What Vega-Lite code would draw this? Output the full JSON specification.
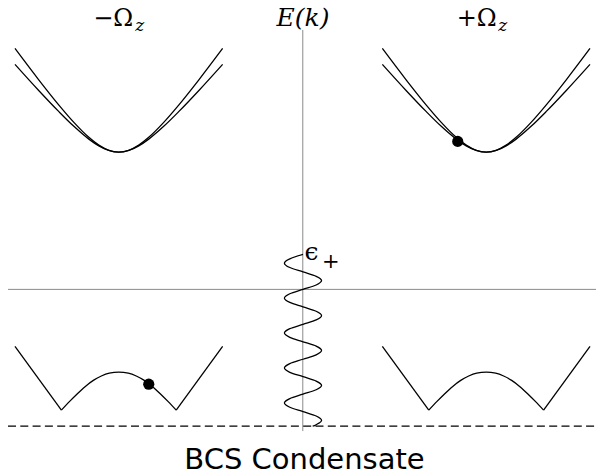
{
  "$schema": "https://vega.github.io/schema/vega-lite/v6.json",
  "autosize": {"type": "fit", "contains": "padding"},
  "width": 597,
  "height": 475,
  "padding": 0,
  "background": "white",
  "config": {"view": {"stroke": null}},
  "datasets": {
    "rules": [
      {"id": "kaxis", "k": 0.003, "k2": 0.003, "E": 2.60, "E2": -1.42},
      {"id": "Ezero", "k": -2.95, "k2": 2.94, "E": 0, "E2": 0}
    ],
    "dash": [
      {"id": "condensate", "k": -2.95, "k2": 2.94, "E": -1.37, "E2": -1.37}
    ],
    "curves": [
      {"id": "LoutA", "k": -2.88, "E": 2.415}, {"id": "LoutA", "k": -2.64, "E": 2.098}, {"id": "LoutA", "k": -2.44, "E": 1.847}, {"id": "LoutA", "k": -2.29, "E": 1.674}, {"id": "LoutA", "k": -2.14, "E": 1.524}, {"id": "LoutA", "k": -2.04, "E": 1.446}, {"id": "LoutA", "k": -1.94, "E": 1.394}, {"id": "LoutA", "k": -1.84, "E": 1.375}, {"id": "LoutA", "k": -1.74, "E": 1.394}, {"id": "LoutA", "k": -1.64, "E": 1.446}, {"id": "LoutA", "k": -1.54, "E": 1.524}, {"id": "LoutA", "k": -1.39, "E": 1.674}, {"id": "LoutA", "k": -1.24, "E": 1.847}, {"id": "LoutA", "k": -1.04, "E": 2.098}, {"id": "LoutA", "k": -0.80, "E": 2.415},
      {"id": "LinA", "k": -2.88, "E": 2.255}, {"id": "LinA", "k": -2.64, "E": 1.991}, {"id": "LinA", "k": -2.44, "E": 1.781}, {"id": "LinA", "k": -2.29, "E": 1.634}, {"id": "LinA", "k": -2.14, "E": 1.506}, {"id": "LinA", "k": -2.04, "E": 1.438}, {"id": "LinA", "k": -1.94, "E": 1.392}, {"id": "LinA", "k": -1.84, "E": 1.375}, {"id": "LinA", "k": -1.74, "E": 1.392}, {"id": "LinA", "k": -1.64, "E": 1.438}, {"id": "LinA", "k": -1.54, "E": 1.506}, {"id": "LinA", "k": -1.39, "E": 1.634}, {"id": "LinA", "k": -1.24, "E": 1.781}, {"id": "LinA", "k": -1.04, "E": 1.991}, {"id": "LinA", "k": -0.80, "E": 2.255},
      {"id": "RoutA", "k": 0.80, "E": 2.415}, {"id": "RoutA", "k": 1.04, "E": 2.098}, {"id": "RoutA", "k": 1.24, "E": 1.847}, {"id": "RoutA", "k": 1.39, "E": 1.674}, {"id": "RoutA", "k": 1.54, "E": 1.524}, {"id": "RoutA", "k": 1.64, "E": 1.446}, {"id": "RoutA", "k": 1.74, "E": 1.394}, {"id": "RoutA", "k": 1.84, "E": 1.375}, {"id": "RoutA", "k": 1.94, "E": 1.394}, {"id": "RoutA", "k": 2.04, "E": 1.446}, {"id": "RoutA", "k": 2.14, "E": 1.524}, {"id": "RoutA", "k": 2.29, "E": 1.674}, {"id": "RoutA", "k": 2.44, "E": 1.847}, {"id": "RoutA", "k": 2.64, "E": 2.098}, {"id": "RoutA", "k": 2.88, "E": 2.415},
      {"id": "RinA", "k": 0.80, "E": 2.255}, {"id": "RinA", "k": 1.04, "E": 1.991}, {"id": "RinA", "k": 1.24, "E": 1.781}, {"id": "RinA", "k": 1.39, "E": 1.634}, {"id": "RinA", "k": 1.54, "E": 1.506}, {"id": "RinA", "k": 1.64, "E": 1.438}, {"id": "RinA", "k": 1.74, "E": 1.392}, {"id": "RinA", "k": 1.84, "E": 1.375}, {"id": "RinA", "k": 1.94, "E": 1.392}, {"id": "RinA", "k": 2.04, "E": 1.438}, {"id": "RinA", "k": 2.14, "E": 1.506}, {"id": "RinA", "k": 2.29, "E": 1.634}, {"id": "RinA", "k": 2.44, "E": 1.781}, {"id": "RinA", "k": 2.64, "E": 1.991}, {"id": "RinA", "k": 2.88, "E": 2.255},
      {"id": "LW1", "k": -2.88, "E": -0.57}, {"id": "LW1", "k": -2.415, "E": -1.21},
      {"id": "LW2", "k": -2.415, "E": -1.21}, {"id": "LW2", "k": -2.335, "E": -1.125}, {"id": "LW2", "k": -2.255, "E": -1.045}, {"id": "LW2", "k": -2.175, "E": -0.972}, {"id": "LW2", "k": -2.095, "E": -0.912}, {"id": "LW2", "k": -2.015, "E": -0.868}, {"id": "LW2", "k": -1.935, "E": -0.84}, {"id": "LW2", "k": -1.84, "E": -0.83}, {"id": "LW2", "k": -1.745, "E": -0.84}, {"id": "LW2", "k": -1.665, "E": -0.868}, {"id": "LW2", "k": -1.585, "E": -0.912}, {"id": "LW2", "k": -1.505, "E": -0.972}, {"id": "LW2", "k": -1.425, "E": -1.045}, {"id": "LW2", "k": -1.345, "E": -1.125}, {"id": "LW2", "k": -1.265, "E": -1.21},
      {"id": "LW3", "k": -1.265, "E": -1.21}, {"id": "LW3", "k": -0.80, "E": -0.57},
      {"id": "RW1", "k": 0.80, "E": -0.57}, {"id": "RW1", "k": 1.265, "E": -1.21},
      {"id": "RW2", "k": 1.265, "E": -1.21}, {"id": "RW2", "k": 1.345, "E": -1.125}, {"id": "RW2", "k": 1.425, "E": -1.045}, {"id": "RW2", "k": 1.505, "E": -0.972}, {"id": "RW2", "k": 1.585, "E": -0.912}, {"id": "RW2", "k": 1.665, "E": -0.868}, {"id": "RW2", "k": 1.745, "E": -0.84}, {"id": "RW2", "k": 1.84, "E": -0.83}, {"id": "RW2", "k": 1.935, "E": -0.84}, {"id": "RW2", "k": 2.015, "E": -0.868}, {"id": "RW2", "k": 2.095, "E": -0.912}, {"id": "RW2", "k": 2.175, "E": -0.972}, {"id": "RW2", "k": 2.255, "E": -1.045}, {"id": "RW2", "k": 2.335, "E": -1.125}, {"id": "RW2", "k": 2.415, "E": -1.21},
      {"id": "RW3", "k": 2.415, "E": -1.21}, {"id": "RW3", "k": 2.88, "E": -0.57}
    ],
    "wave": [
      {"i": 0, "k": 0.005, "E": 0.35}, {"i": 1, "k": -0.127, "E": 0.306}, {"i": 2, "k": -0.181, "E": 0.263}, {"i": 3, "k": -0.127, "E": 0.219},
      {"i": 4, "k": 0.005, "E": 0.175}, {"i": 5, "k": 0.137, "E": 0.131}, {"i": 6, "k": 0.191, "E": 0.088}, {"i": 7, "k": 0.137, "E": 0.044},
      {"i": 8, "k": 0.005, "E": 0.0}, {"i": 9, "k": -0.127, "E": -0.044}, {"i": 10, "k": -0.181, "E": -0.088}, {"i": 11, "k": -0.127, "E": -0.131},
      {"i": 12, "k": 0.005, "E": -0.175}, {"i": 13, "k": 0.137, "E": -0.219}, {"i": 14, "k": 0.191, "E": -0.263}, {"i": 15, "k": 0.137, "E": -0.306},
      {"i": 16, "k": 0.005, "E": -0.35}, {"i": 17, "k": -0.127, "E": -0.394}, {"i": 18, "k": -0.181, "E": -0.438}, {"i": 19, "k": -0.127, "E": -0.481},
      {"i": 20, "k": 0.005, "E": -0.525}, {"i": 21, "k": 0.137, "E": -0.569}, {"i": 22, "k": 0.191, "E": -0.613}, {"i": 23, "k": 0.137, "E": -0.656},
      {"i": 24, "k": 0.005, "E": -0.70}, {"i": 25, "k": -0.127, "E": -0.744}, {"i": 26, "k": -0.181, "E": -0.788}, {"i": 27, "k": -0.127, "E": -0.831},
      {"i": 28, "k": 0.005, "E": -0.875}, {"i": 29, "k": 0.137, "E": -0.919}, {"i": 30, "k": 0.191, "E": -0.963}, {"i": 31, "k": 0.137, "E": -1.006},
      {"i": 32, "k": 0.005, "E": -1.05}, {"i": 33, "k": -0.127, "E": -1.094}, {"i": 34, "k": -0.181, "E": -1.138}, {"i": 35, "k": -0.127, "E": -1.181},
      {"i": 36, "k": 0.005, "E": -1.225}, {"i": 37, "k": 0.137, "E": -1.269}, {"i": 38, "k": 0.191, "E": -1.313}, {"i": 39, "k": 0.137, "E": -1.356},
      {"i": 40, "k": 0.102, "E": -1.37}
    ],
    "dots": [
      {"id": "condensed", "k": 1.555, "E": 1.483},
      {"id": "pair", "k": -1.54, "E": -0.95}
    ],
    "texts": [
      {"role": "italicCenter", "t": "E(k)", "k": 0.005, "E": 2.635},
      {"role": "sub", "t": "z", "k": -1.675, "E": 2.585},
      {"role": "sub", "t": "z", "k": 1.96, "E": 2.585},
      {"role": "eps", "t": "ϵ", "k": 0.02, "E": 0.29},
      {"role": "uprightRight", "t": "−Ω", "k": -1.695, "E": 2.635},
      {"role": "uprightRight", "t": "+Ω", "k": 1.945, "E": 2.635},
      {"role": "uprightLeft", "t": "+", "k": 0.195, "E": 0.215},
      {"role": "sans", "t": "BCS Condensate", "k": 0.02, "E": -1.80}
    ]
  },
  "encoding": {
    "x": {"field": "k", "type": "quantitative", "axis": null, "scale": {"domain": [-3.03, 2.94], "nice": false, "zero": false}},
    "y": {"field": "E", "type": "quantitative", "axis": null, "scale": {"domain": [-1.85, 2.90], "nice": false, "zero": false}}
  },
  "layer": [
    {
      "data": {"name": "rules"},
      "mark": {"type": "rule", "color": "#8a8a8a", "strokeWidth": 1},
      "encoding": {"x2": {"field": "k2"}, "y2": {"field": "E2"}}
    },
    {
      "data": {"name": "dash"},
      "mark": {"type": "rule", "color": "black", "strokeWidth": 1.2, "strokeDash": [8, 4.3]},
      "encoding": {"x2": {"field": "k2"}, "y2": {"field": "E2"}}
    },
    {
      "data": {"name": "curves"},
      "mark": {"type": "line", "color": "black", "strokeWidth": 1.3, "interpolate": "monotone"},
      "encoding": {"detail": {"field": "id"}}
    },
    {
      "data": {"name": "wave"},
      "mark": {"type": "line", "color": "black", "strokeWidth": 1.3, "interpolate": "cardinal"},
      "encoding": {"order": {"field": "i", "type": "quantitative"}}
    },
    {
      "data": {"name": "dots"},
      "mark": {"type": "point", "filled": true, "color": "black", "opacity": 1, "size": 125}
    },
    {
      "data": {"name": "texts"},
      "transform": [{"filter": "datum.role === 'italicCenter'"}],
      "mark": {"type": "text", "font": "DejaVu Serif", "fontStyle": "italic", "fontSize": 25, "align": "center", "baseline": "alphabetic", "color": "black"},
      "encoding": {"text": {"field": "t"}}
    },
    {
      "data": {"name": "texts"},
      "transform": [{"filter": "datum.role === 'sub'"}],
      "mark": {"type": "text", "font": "DejaVu Serif", "fontStyle": "italic", "fontSize": 17, "align": "left", "baseline": "alphabetic", "color": "black"},
      "encoding": {"text": {"field": "t"}}
    },
    {
      "data": {"name": "texts"},
      "transform": [{"filter": "datum.role === 'eps'"}],
      "mark": {"type": "text", "font": "DejaVu Serif", "fontSize": 25, "align": "left", "baseline": "alphabetic", "color": "black"},
      "encoding": {"text": {"field": "t"}}
    },
    {
      "data": {"name": "texts"},
      "transform": [{"filter": "datum.role === 'uprightRight'"}],
      "mark": {"type": "text", "font": "DejaVu Serif", "fontSize": 24, "align": "right", "baseline": "alphabetic", "color": "black"},
      "encoding": {"text": {"field": "t"}}
    },
    {
      "data": {"name": "texts"},
      "transform": [{"filter": "datum.role === 'uprightLeft'"}],
      "mark": {"type": "text", "font": "DejaVu Serif", "fontSize": 21, "align": "left", "baseline": "alphabetic", "color": "black"},
      "encoding": {"text": {"field": "t"}}
    },
    {
      "data": {"name": "texts"},
      "transform": [{"filter": "datum.role === 'sans'"}],
      "mark": {"type": "text", "font": "DejaVu Sans", "fontSize": 29, "align": "center", "baseline": "alphabetic", "color": "black"},
      "encoding": {"text": {"field": "t"}}
    }
  ]
}
